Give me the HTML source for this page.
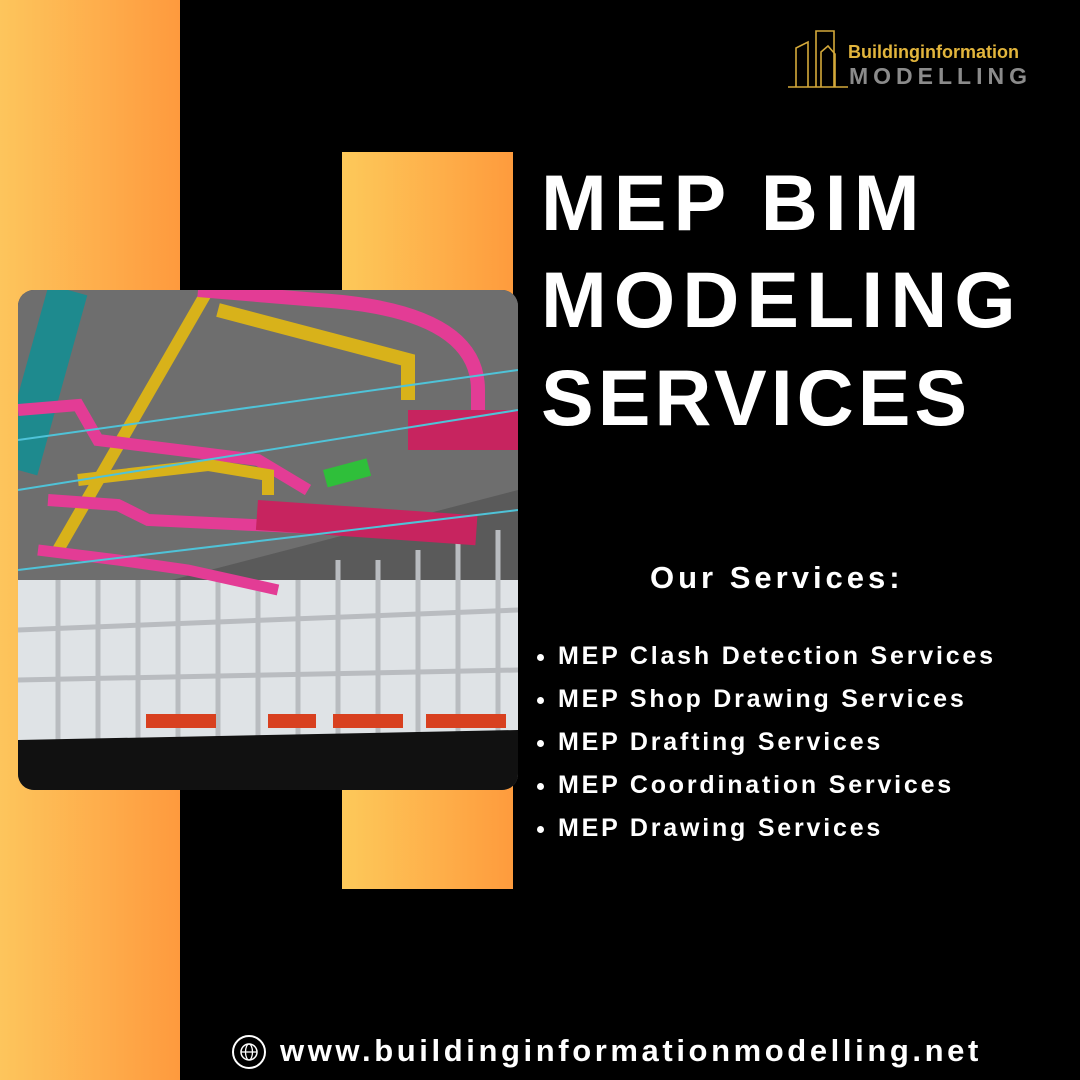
<!DOCTYPE html>
<html><head><meta charset="utf-8"><style>
html,body{margin:0;padding:0}
body{width:1080px;height:1080px;background:#000;position:relative;overflow:hidden;font-family:"Liberation Sans",sans-serif;color:#fff}
.bar1{position:absolute;left:0;top:0;width:180px;height:1080px;background:linear-gradient(90deg,#fdc55c,#fe9a3e)}
.bar2{position:absolute;left:342px;top:152px;width:171px;height:737px;background:linear-gradient(90deg,#fdc95a,#fe9b3d)}
.img{position:absolute;left:18px;top:290px;width:500px;height:500px;border-radius:16px;overflow:hidden;background:#555}
.t{position:absolute;left:541px;font-weight:bold;font-size:79px;line-height:1;letter-spacing:7px}
.os{position:absolute;left:650px;top:560px;font-weight:bold;font-size:31px;letter-spacing:4px}
ul{position:absolute;left:530px;top:635px;margin:0;padding:0 0 0 28px;font-weight:bold;font-size:25px;line-height:43px;letter-spacing:2.8px}
.f{position:absolute;left:280px;top:1033px;font-weight:bold;font-size:31px;letter-spacing:3.6px}
</style></head><body>
<div class="bar1"></div><div class="bar2"></div>
<div class="img"><svg width="500" height="500" viewBox="0 0 500 500">
<rect width="500" height="500" fill="#5a5a5a"/>
<polygon points="0,0 500,0 500,200 0,330" fill="#6e6e6e"/>
<rect x="0" y="290" width="500" height="160" fill="#dfe3e6"/>
<g stroke="#b9bcc0" stroke-width="5">
<line x1="40" y1="290" x2="40" y2="450"/><line x1="80" y1="290" x2="80" y2="450"/><line x1="120" y1="290" x2="120" y2="450"/><line x1="160" y1="290" x2="160" y2="450"/><line x1="200" y1="290" x2="200" y2="450"/><line x1="240" y1="290" x2="240" y2="450"/><line x1="280" y1="290" x2="280" y2="450"/><line x1="320" y1="270" x2="320" y2="450"/><line x1="360" y1="270" x2="360" y2="450"/><line x1="400" y1="260" x2="400" y2="450"/><line x1="440" y1="250" x2="440" y2="450"/><line x1="480" y1="240" x2="480" y2="450"/>
<line x1="0" y1="340" x2="500" y2="320"/><line x1="0" y1="390" x2="500" y2="380"/></g>
<g fill="#d8401f"><rect x="128" y="424" width="70" height="14"/><rect x="250" y="424" width="48" height="14"/><rect x="315" y="424" width="70" height="14"/><rect x="408" y="424" width="80" height="14"/></g>
<polygon points="0,450 500,440 500,500 0,500" fill="#111"/>
<path d="M50 0 L0 180" stroke="#1e8a8e" stroke-width="40"/>
<path d="M190 0 L40 260" stroke="#d8b21a" stroke-width="12" fill="none"/>
<path d="M200 20 L390 70 L390 110" stroke="#d8b21a" stroke-width="14" fill="none"/>
<path d="M180 0 L300 10 Q460 20 460 100 L460 120" stroke="#e33c95" stroke-width="14" fill="none"/>
<path d="M0 120 L60 115 L80 150 L240 170 L290 200" stroke="#e33c95" stroke-width="12" fill="none"/>
<path d="M30 210 L100 215 L130 230 L340 240" stroke="#e33c95" stroke-width="12" fill="none"/>
<path d="M20 260 L100 270 L170 280 L260 300" stroke="#e33c95" stroke-width="11" fill="none"/>
<path d="M60 190 L190 175 L250 185 L250 205" stroke="#d8b21a" stroke-width="12" fill="none"/>
<rect x="390" y="120" width="110" height="40" fill="#c7245f"/>
<rect x="240" y="210" width="220" height="30" fill="#c7245f" transform="rotate(4 240 210)"/>
<rect x="305" y="180" width="45" height="18" fill="#2fbf3a" transform="rotate(-15 305 180)"/>
<g stroke="#4fc3d8" stroke-width="2" fill="none"><path d="M0 150 L500 80"/><path d="M0 200 L500 120"/><path d="M0 280 L500 220"/></g>
</svg></div>
<div class="t" style="top:163px">MEP BIM</div>
<div class="t" style="top:260px">MODELING</div>
<div class="t" style="top:358px;letter-spacing:4px">SERVICES</div>
<div class="os">Our Services:</div>
<ul><li>MEP Clash Detection Services</li><li>MEP Shop Drawing Services</li><li>MEP Drafting Services</li><li>MEP Coordination Services</li><li>MEP Drawing Services</li></ul>
<svg style="position:absolute;left:231px;top:1034px" width="36" height="36" viewBox="0 0 36 36"><circle cx="18" cy="18" r="16" fill="none" stroke="#fff" stroke-width="2"/><circle cx="18" cy="18" r="8" fill="none" stroke="#fff" stroke-width="1.5"/><ellipse cx="18" cy="18" rx="3.5" ry="8" fill="none" stroke="#fff" stroke-width="1.3"/><line x1="10" y1="18" x2="26" y2="18" stroke="#fff" stroke-width="1.3"/></svg>
<div class="f">www.buildinginformationmodelling.net</div>
<svg style="position:absolute;left:788px;top:28px" width="60" height="62" viewBox="0 0 60 62"><g fill="none" stroke="#d4a93a" stroke-width="1.6"><path d="M0 59 H60"/><path d="M8 59 V20 L20 14 V59"/><path d="M28 59 V3 H46 V59"/><path d="M33 59 V24 L40 18 L47 26 V59"/></g></svg>
<div style="position:absolute;left:848px;top:42px;color:#e2b53c;font-weight:bold;font-size:18px">Buildinginformation</div>
<div style="position:absolute;left:849px;top:63px;color:#8b8b8b;font-weight:bold;font-size:23px;letter-spacing:5px">MODELLING</div>
</body></html>
